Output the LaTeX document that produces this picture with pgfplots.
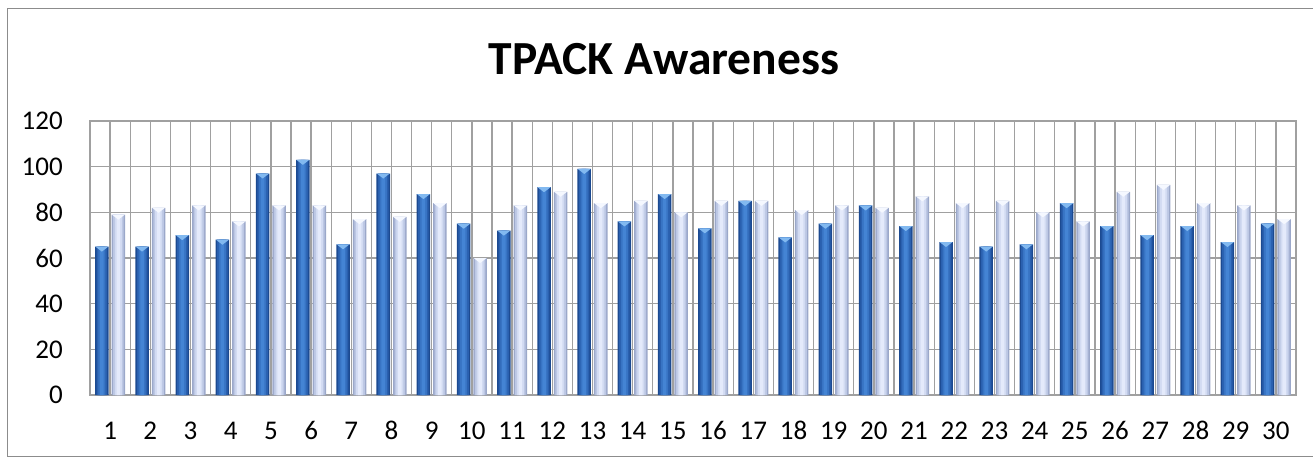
\documentclass[border=0pt]{standalone}
\usepackage{fontspec}
\setmainfont{Carlito}
\usepackage{pgfplots}
\usepackage{pgfplotstable}
\pgfplotsset{compat=1.18}
\definecolor{dA}{RGB}{28,74,145}
\definecolor{dB}{RGB}{42,96,175}
\definecolor{dC}{RGB}{56,116,196}
\definecolor{dD}{RGB}{68,132,212}
\definecolor{lA}{RGB}{155,168,202}
\definecolor{lB}{RGB}{188,199,228}
\definecolor{lC}{RGB}{210,219,242}
\definecolor{lD}{RGB}{228,234,251}
\definecolor{gridc}{RGB}{160,160,160}
\definecolor{capdark}{RGB}{130,185,240}
\definecolor{caplight}{RGB}{245,248,255}
\definecolor{framec}{RGB}{140,140,140}

\pgfdeclareplotmark{capmark}{%
 \pgfpathmoveto{\pgfqpoint{-6.5pt}{0pt}}%
 \pgfpathlineto{\pgfqpoint{6.5pt}{0pt}}%
 \pgfpathlineto{\pgfqpoint{0pt}{-5pt}}%
 \pgfpathclose\pgfusepathqfill}

\pgfplotstableread{
x dark light
1 65 79
2 65 82
3 70 83
4 68 76
5 97 83
6 103 83
7 66 77
8 97 78
9 88 84
10 75 60
11 72 83
12 91 89
13 99 84
14 76 85
15 88 80
16 73 85
17 85 85
18 69 81
19 75 83
20 83 82
21 74 87
22 67 84
23 65 85
24 66 80
25 84 76
26 74 89
27 70 92
28 74 84
29 67 83
30 75 77
}\datatable

\begin{document}
\begin{tikzpicture}[x=1pt,y=1pt]
\useasboundingbox (0,0) rectangle (1313,458);
\draw[framec, line width=1.5pt] (7.5,1.5) rectangle (1330,449.5);
\node[font=\bfseries\fontsize{47.5}{52}\selectfont, anchor=base] at (664,383) {TPACK Awareness};
\begin{axis}[
  at={(90pt,63pt)}, anchor=south west,
  scale only axis, width=1206pt, height=274pt,
  xmin=0.5, xmax=30.5, ymin=0, ymax=120,
  ytick={0,20,...,120},
  xtick={1,...,30},
  minor xtick={0.5,1.5,...,30.5},
  ymajorgrids, xmajorgrids, xminorgrids,
  major grid style={gridc, line width=1.3pt},
  minor grid style={gridc, line width=1.3pt},
  major tick length=0pt, minor tick length=0pt,
  axis line style={gridc, line width=1.8pt},
  tick label style={font=\fontsize{27}{30}\selectfont, inner sep=0pt},
  yticklabel style={anchor=east, xshift=-27pt},
  xticklabel style={anchor=base, yshift=-44pt},
  /pgf/number format/assume math mode=true,
]
\addplot[ybar, bar shift=-8.25pt, bar width=13.5pt, draw=none, fill=dA] table[x=x, y=dark] {\datatable};
\addplot[ybar, bar shift=-8.25pt, bar width=10.5pt, draw=none, fill=dB] table[x=x, y=dark] {\datatable};
\addplot[ybar, bar shift=-8.25pt, bar width=7pt, draw=none, fill=dC] table[x=x, y=dark] {\datatable};
\addplot[ybar, bar shift=-8.25pt, bar width=3.5pt, draw=none, fill=dD] table[x=x, y=dark] {\datatable};
\addplot[ybar, bar shift=8.25pt, bar width=13.5pt, draw=none, fill=lA] table[x=x, y=light] {\datatable};
\addplot[ybar, bar shift=8.25pt, bar width=10.5pt, draw=none, fill=lB] table[x=x, y=light] {\datatable};
\addplot[ybar, bar shift=8.25pt, bar width=7pt, draw=none, fill=lC] table[x=x, y=light] {\datatable};
\addplot[ybar, bar shift=8.25pt, bar width=3.5pt, draw=none, fill=lD] table[x=x, y=light] {\datatable};
\addplot[only marks, mark=capmark, color=capdark, mark options={xshift=-8.25pt}] table[x=x, y=dark] {\datatable};
\addplot[only marks, mark=capmark, color=caplight, mark options={xshift=8.25pt}] table[x=x, y=light] {\datatable};
\end{axis}
\end{tikzpicture}
\end{document}
